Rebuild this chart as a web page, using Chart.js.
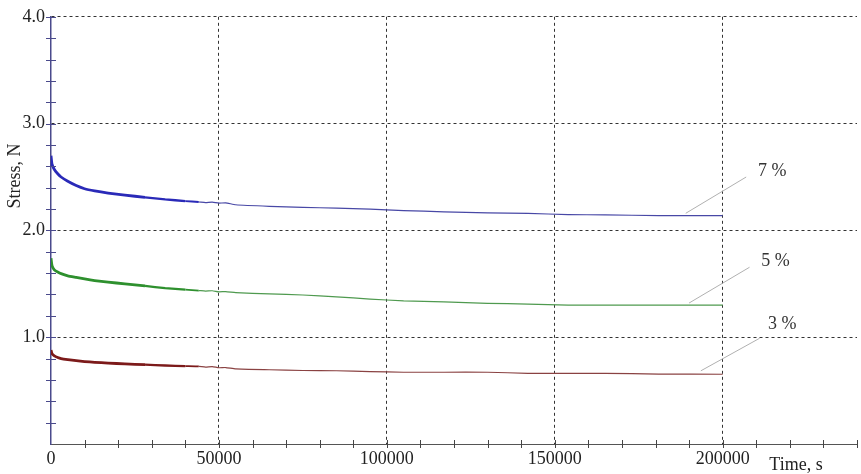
<!DOCTYPE html>
<html>
<head>
<meta charset="utf-8">
<script src="https://cdn.jsdelivr.net/npm/chart.js@4/dist/chart.umd.min.js"></script>
<style>
html,body{margin:0;padding:0;background:#fff;}
canvas{display:block;}
</style>
</head>
<body>
<canvas id="c" width="861" height="474"></canvas>
<script>
// ---- data ----
const timeS = [0, 300, 1000, 2000, 3000, 5000, 7500, 10000, 13000, 17000, 22000, 28000, 34000, 40000, 44000,
  46000, 48000, 50000, 52000, 55000, 65000, 75000, 85000, 95000, 105000, 117000, 130000, 142000, 154000, 165000, 181000, 200000];
const stress7 = [2.70, 2.62, 2.57, 2.53, 2.50, 2.46, 2.42, 2.39, 2.37, 2.35, 2.33, 2.31, 2.29, 2.275, 2.266,
  2.26, 2.264, 2.255, 2.258, 2.24, 2.225, 2.215, 2.209, 2.200, 2.186, 2.174, 2.165, 2.159, 2.148, 2.145, 2.139, 2.139];
const stress5 = [1.74, 1.67, 1.63, 1.61, 1.595, 1.575, 1.56, 1.545, 1.53, 1.515, 1.50, 1.48, 1.46, 1.445, 1.437,
  1.432, 1.435, 1.425, 1.427, 1.418, 1.405, 1.395, 1.378, 1.357, 1.34, 1.33, 1.317, 1.31, 1.30, 1.30, 1.30, 1.30];
const stress3 = [0.88, 0.845, 0.825, 0.81, 0.80, 0.79, 0.78, 0.772, 0.765, 0.758, 0.75, 0.743, 0.735, 0.73, 0.727,
  0.72, 0.725, 0.714, 0.716, 0.703, 0.695, 0.688, 0.686, 0.678, 0.672, 0.672, 0.672, 0.662, 0.662, 0.662, 0.655, 0.653];
const seriesLabels = ['7 %', '5 %', '3 %'];
// leader lines: [x0, y0, x1, y1] in data units, label anchor [x, y]
const leaderLines = [[189000, 2.16, 207000, 2.50], [190000, 1.32, 208000, 1.655], [193500, 0.685, 211000, 0.99]];
const labelAnchors = [[210500, 2.55], [211500, 1.71], [213500, 1.125]];
const xTickLabels = [0, 50000, 100000, 150000, 200000];
const yTickLabels = [1, 2, 3, 4];

const FONT = '"Times New Roman", "Liberation Serif", "DejaVu Serif", serif';
Chart.defaults.font.family = FONT;
Chart.defaults.font.size = 18;
Chart.defaults.color = '#222';

function widthAt(x) {
  if (x < 28000) return 2.8;
  if (x < 40000) return 2.3;
  if (x < 44000) return 1.8;
  return 1.2;
}

function mk(vals, band, thin) {
  return {
    data: timeS.map((t, i) => ({x: t, y: vals[i]})),
    borderColor: thin,
    pointRadius: 0,
    tension: 0.15,
    fill: false,
    segment: {
      borderWidth: c => widthAt(c.p0.parsed.x),
      borderColor: c => c.p0.parsed.x < 44000 ? band : thin
    }
  };
}

const decor = {
  id: 'decor',
  afterDraw(chart) {
    const ctx = chart.ctx, xs = chart.scales.x, ys = chart.scales.y, a = chart.chartArea;
    ctx.save();
    // tick marks crossing the axes
    ctx.lineWidth = 1;
    ctx.strokeStyle = '#444';
    xs.ticks.forEach(t => {
      if (t.value <= 0) return;
      const px = Math.round(xs.getPixelForValue(t.value)) + 0.5;
      ctx.beginPath(); ctx.moveTo(px, a.bottom - 4); ctx.lineTo(px, a.bottom + 4); ctx.stroke();
    });
    ctx.strokeStyle = '#4a4a8c';
    ys.ticks.forEach(t => {
      if (t.value <= 0) return;
      const py = Math.round(ys.getPixelForValue(t.value)) + 0.5;
      ctx.beginPath(); ctx.moveTo(a.left - 5, py); ctx.lineTo(a.left + 5, py); ctx.stroke();
    });
    // leader lines and series labels
    ctx.strokeStyle = '#b0b0b0';
    ctx.lineWidth = 1;
    leaderLines.forEach(l => {
      ctx.beginPath();
      ctx.moveTo(xs.getPixelForValue(l[0]), ys.getPixelForValue(l[1]));
      ctx.lineTo(xs.getPixelForValue(l[2]), ys.getPixelForValue(l[3]));
      ctx.stroke();
    });
    ctx.fillStyle = '#333';
    ctx.font = '18px ' + FONT;
    ctx.textAlign = 'left';
    ctx.textBaseline = 'middle';
    labelAnchors.forEach((p, i) => {
      ctx.fillText(seriesLabels[i], xs.getPixelForValue(p[0]), ys.getPixelForValue(p[1]));
    });
    // axis titles
    ctx.fillStyle = '#222';
    ctx.textAlign = 'center';
    ctx.fillText('Time, s', 796, 465);
    ctx.translate(15, 176);
    ctx.rotate(-Math.PI / 2);
    ctx.fillText('Stress, N', 0, 0);
    ctx.restore();
  }
};

new Chart(document.getElementById('c'), {
  type: 'line',
  data: {
    datasets: [
      mk(stress7, '#2a2ab8', '#4848a6'),
      mk(stress5, '#2e902e', '#4f9a4f'),
      mk(stress3, '#7c1a1a', '#8a4242')
    ]
  },
  options: {
    responsive: false,
    animation: false,
    layout: {padding: {top: 13, right: 0, left: 0, bottom: 0}},
    plugins: {legend: {display: false}, tooltip: {enabled: false}},
    scales: {
      x: {
        type: 'linear', min: 0, max: 240000,
        afterFit: s => { s.height = 30; },
        border: {color: '#555', width: 1, dash: [3, 3]},
        grid: {
          drawTicks: false,
          color: c => (c.tick && xTickLabels.includes(c.tick.value) && c.tick.value > 0) ? '#333' : 'rgba(0,0,0,0)',
          lineWidth: 1
        },
        ticks: {
          stepSize: 10000, autoSkip: false, maxRotation: 0, padding: 4,
          callback: v => xTickLabels.includes(v) ? String(v) : ''
        }
      },
      y: {
        min: 0, max: 4,
        afterFit: s => { s.width = 51; },
        border: {color: '#4a4a8c', width: 1.5, dash: [3, 3]},
        grid: {
          drawTicks: false,
          color: c => (c.tick && yTickLabels.includes(Math.round(c.tick.value * 10) / 10)) ? '#333' : 'rgba(0,0,0,0)',
          lineWidth: 1
        },
        ticks: {
          stepSize: 0.2, autoSkip: false, padding: 6,
          callback: v => { const r = Math.round(v * 10) / 10; return yTickLabels.includes(r) ? r.toFixed(1) : ''; }
        }
      }
    }
  },
  plugins: [decor]
});
</script>
</body>
</html>
